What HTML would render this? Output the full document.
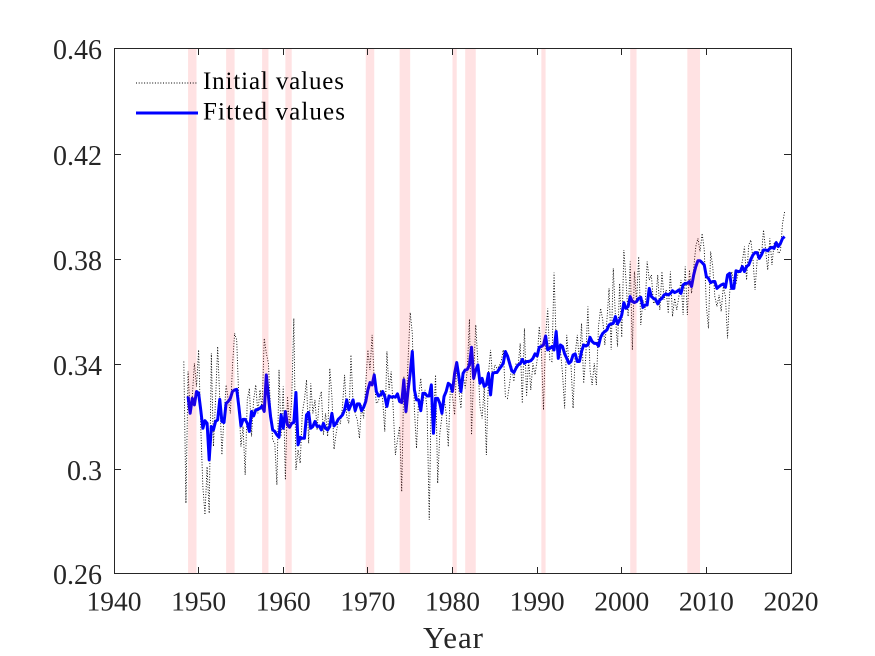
<!DOCTYPE html>
<html lang="en">
<head>
<meta charset="utf-8">
<title>Initial and fitted values</title>
<style>
html,body{margin:0;padding:0;background:#fff;}
svg{display:block;font-family:"Liberation Serif",serif;}
</style>
</head>
<body>
<svg id="chart" xmlns="http://www.w3.org/2000/svg" width="875" height="656" viewBox="0 0 875 656">
<rect x="0" y="0" width="875" height="656" fill="#fff"/>
<g id="series"></g>
<g id="bands"></g>
<g id="axes"></g>
<g id="legend">
<line x1="136" y1="83" x2="198" y2="83" stroke="#000" stroke-width="0.9" stroke-dasharray="1 1.7"/>
<text x="203" y="89" font-size="25" fill="#000" textLength="141">Initial values</text>
<line x1="136" y1="113" x2="198" y2="113" stroke="#0000ff" stroke-width="3"/>
<text x="203" y="119.500" font-size="25" fill="#000" textLength="142">Fitted values</text>
</g>
<text x="423" y="648" font-size="31" fill="#262626" textLength="60">Year</text>
</svg>
<script>
const xTicks = [1940,1950,1960,1970,1980,1990,2000,2010,2020];
const xTickLabels = ["1940","1950","1960","1970","1980","1990","2000","2010","2020"];
const yTicks = [0.26,0.30,0.34,0.38,0.42,0.46];
const yTickLabels = ["0.26","0.3","0.34","0.38","0.42","0.46"];
const recessionStarts = [1948.75,1953.25,1957.5,1960.25,1969.75,1973.75,1980,1981.5,1990.5,2001,2007.75];
const recessionEnds = [1949.75,1954.25,1958.25,1961,1970.75,1975,1980.5,1982.75,1991,2001.75,2009.25];
const initialStartYear = 1948.25;
const fittedStartYear = 1948.75;
const initialValues = [
.3408,.2869,.3370,.3211,.3275,.3401,.3313,.3452,.3161,.2932,.2825,.3008,.2831,.3439,.3085,.3262,.3465,.3262,.3053,.3199,.3319,.3262,.3211,.3389,.3515,.3490,.3262,.3085,.3161,.2977,.3262,.3306,.3123,.3262,.3319,.3211,.3300,.3224,.3496,.3439,.3401,.3224,.3110,.3097,.2939,.3376,.3123,.3313,.2958,.3275,.3161,.3262,.3572,.2996,.3072,.3021,.3211,.3262,.3338,.3097,.3325,.3211,.3262,.3148,.3262,.3294,.3129,.3211,.3123,.3382,
.3275,.3074,.3135,.3180,.3173,.3237,.3357,.3199,.3173,.3433,.3249,.3211,.3186,.3116,.3243,.3192,.3325,.3452,.3376,.3509,.3338,.3249,.3256,.3300,.3262,.3142,.3446,.3300,.3370,.3224,.3053,.3110,.3161,.2913,.3351,.3211,.3414,.3594,.3515,.3224,.3078,.3275,.3344,.3249,.3300,.3224,.2806,.3300,.3173,.3357,.2945,.3135,.3199,.3275,.3211,.3084,.3313,.3275,.3205,.3401,.3300,.3230,.3363,.3306,.3376,.3569,.3129,.3363,.3547,.3401,.3237,.3192,.3313,.3053,
.3363,.3452,.3338,.3395,.3382,.3389,.3408,.3452,.3275,.3268,.3325,.3389,.3332,.3401,.3389,.3477,.3249,.3534,.3275,.3414,.3300,.3401,.3357,.3414,.3541,.3452,.3224,.3503,.3610,.3414,.3408,.3746,.3477,.3414,.3452,.3363,.3230,.3509,.3401,.3395,.3230,.3439,.3509,.3401,.3553,.3325,.3427,.3617,.3376,.3319,.3401,.3319,.3541,.3610,.3566,.3471,.3566,.3686,.3452,.3762,.3579,.3465,.3705,.3500,.3832,.3718,.3579,.3788,.3452,.3750,.3636,.3807,
.3547,.3642,.3604,.3788,.3718,.3737,.3629,.3636,.3737,.3604,.3750,.3642,.3680,.3591,.3750,.3579,.3648,.3604,.3655,.3718,.3585,.3769,.3585,.3756,.3667,.3762,.3845,.3876,.3826,.3895,.3832,.3617,.3534,.3826,.3769,.3655,.3617,.3661,.3598,.3693,.3655,.3496,.3667,.3750,.3705,.3705,.3743,.3756,.3788,.3845,.3718,.3851,.3870,.3800,.3680,.3794,.3838,.3807,.3908,.3832,.3756,.3876,.3775,.3857,.3864,.3819,.3826,.3933,.3978
];
const fittedValues = [
.3275,.3211,.3268,.3243,.3294,.3287,.3224,.3154,.3183,.3173,.3034,.3161,.3148,.3180,.3186,.3264,.3180,.3176,.3249,.3256,.3268,.3294,.3300,.3302,.3237,.3163,.3188,.3188,.3173,.3142,.3218,.3201,.3224,.3226,.3230,.3239,.3218,.3357,.3275,.3199,.3148,.3142,.3129,.3120,.3205,.3154,.3218,.3167,.3158,.3173,.3176,.3290,.3091,.3120,.3116,.3116,.3205,.3214,.3154,.3161,.3180,.3161,.3163,.3148,.3173,.3154,.3148,.3161,
.3211,.3163,.3173,.3188,.3196,.3205,.3224,.3262,.3224,.3243,.3262,.3221,.3247,.3247,.3221,.3234,.3256,.3300,.3328,.3319,.3357,.3294,.3277,.3281,.3294,.3275,.3237,.3277,.3272,.3275,.3272,.3285,.3256,.3252,.3338,.3218,.3300,.3363,.3446,.3300,.3262,.3262,.3221,.3287,.3287,.3277,.3277,.3319,.3135,.3268,.3268,.3249,.3211,.3275,.3294,.3325,.3319,.3294,.3363,.3404,.3351,.3294,.3363,.3376,.3378,.3395,.3462,.3344,.3376,.3395,.3325,.3344,.3313,.3319,.3363,
.3281,.3363,.3366,.3366,.3378,.3389,.3401,.3446,.3429,.3401,.3373,.3366,.3382,.3395,.3399,.3416,.3401,.3408,.3408,.3411,.3420,.3437,.3429,.3462,.3465,.3471,.3505,.3452,.3458,.3465,.3452,.3522,.3420,.3471,.3465,.3437,.3420,.3401,.3408,.3433,.3437,.3408,.3408,.3446,.3471,.3467,.3471,.3500,.3484,.3477,.3477,.3467,.3500,.3515,.3522,.3528,.3547,.3551,.3553,.3579,.3551,.3566,.3585,.3632,.3610,.3617,.3655,.3636,.3632,.3636,.3648,
.3652,.3614,.3623,.3623,.3686,.3655,.3648,.3644,.3627,.3642,.3648,.3661,.3665,.3661,.3667,.3677,.3670,.3674,.3680,.3667,.3699,.3705,.3705,.3712,.3693,.3737,.3769,.3791,.3791,.3784,.3775,.3731,.3724,.3708,.3712,.3712,.3686,.3693,.3699,.3703,.3690,.3737,.3743,.3686,.3686,.3753,.3750,.3750,.3769,.3750,.3769,.3775,.3796,.3813,.3822,.3822,.3800,.3813,.3832,.3832,.3829,.3838,.3842,.3838,.3860,.3845,.3857,.3876,.3883
];

const SVG_NS = "http://www.w3.org/2000/svg";
const plotLeft = 114, plotRight = 791, plotTop = 48, plotBottom = 574;
const xScale = year => plotLeft + (year - 1940) / 80 * (plotRight - plotLeft);
const yScale = value => plotBottom - (value - 0.26) / 0.20 * (plotBottom - plotTop);

function seriesPath(values, startYear) {
  return values.map((v, i) => (i ? "L" : "M") + xScale(startYear + i * 0.25).toFixed(2) + " " + yScale(v).toFixed(2)).join("");
}
function make(tag, attrs, parent) {
  const el = document.createElementNS(SVG_NS, tag);
  for (const k in attrs) el.setAttribute(k, attrs[k]);
  parent.appendChild(el);
  return el;
}

const seriesLayer = document.getElementById("series");
const initialLine = make("path", {d: seriesPath(initialValues, initialStartYear), fill: "none", stroke: "#000", "stroke-width": 0.9, "stroke-dasharray": "1 1.7"}, seriesLayer);


const fittedLine = make("path", {d: seriesPath(fittedValues, fittedStartYear), fill: "none", stroke: "#0000ff", "stroke-width": 3, "stroke-linejoin": "round"}, seriesLayer);



const bandLayer = document.getElementById("bands");
recessionStarts.forEach((start, i) => {
  const band = make("rect", {x: xScale(start), y: plotTop, width: xScale(recessionEnds[i]) - xScale(start), height: plotBottom - plotTop, fill: "#ff0008", "fill-opacity": 0.115}, bandLayer);
  
  
});

const axes = document.getElementById("axes");
const frame = make("rect", {x: plotLeft + 0.5, y: plotTop + 0.5, width: plotRight - plotLeft, height: plotBottom - plotTop - 1, fill: "none", stroke: "#262626", "stroke-width": 1}, axes);


const tickLen = 7;
xTicks.forEach((t, i) => {
  const x = Math.floor(xScale(t)) + 0.5;
  const bottomTick = make("line", {x1: x, x2: x, y1: plotBottom, y2: plotBottom - tickLen, stroke: "#262626", "stroke-width": 1}, axes);
  
  
  const topTick = make("line", {x1: x, x2: x, y1: plotTop, y2: plotTop + tickLen, stroke: "#262626", "stroke-width": 1}, axes);
  
  
  const label = make("text", {x: xScale(t), y: 610.5, "font-size": 27.5, fill: "#262626", "text-anchor": "middle"}, axes);
  
  
  label.textContent = xTickLabels[i];
});
yTicks.forEach((t, i) => {
  const row = Math.min(Math.ceil(yScale(t)), plotBottom - 1);
  const y = row + 0.5;
  const leftTick = make("line", {x1: plotLeft, x2: plotLeft + tickLen, y1: y, y2: y, stroke: "#262626", "stroke-width": 1}, axes);
  
  
  const rightTick = make("line", {x1: plotRight, x2: plotRight - tickLen, y1: y, y2: y, stroke: "#262626", "stroke-width": 1}, axes);
  
  
  const label = make("text", {x: 102, y: row + 11, "font-size": 28, fill: "#262626", "text-anchor": "end"}, axes);
  
  
  label.textContent = yTickLabels[i];
});
</script>
</body>
</html>
